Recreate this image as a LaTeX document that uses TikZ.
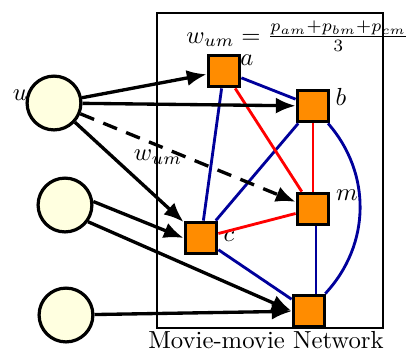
\documentclass[tikz,border=0pt]{standalone}
\usetikzlibrary{arrows.meta}
\definecolor{movieorange}{RGB}{255,140,0}
\definecolor{userfill}{RGB}{255,255,224}
\definecolor{edgeblue}{RGB}{0,0,155}
\begin{document}
\begin{tikzpicture}[x=0.405pt,y=-0.405pt,
  user/.style={circle,draw=black,fill=userfill,line width=1.3pt,minimum size=21.8pt,inner sep=0pt},
  movie/.style={rectangle,draw=black,fill=movieorange,line width=1.3pt,minimum size=12.8pt,inner sep=0pt},
  pref/.style={line width=1.35pt,-{Latex[length=8pt,width=6.5pt]}},
  sim/.style={line width=1.15pt,draw=edgeblue},
  rel/.style={line width=1.15pt,draw=red},
  lbl/.style={inner sep=0pt}]
\useasboundingbox (0,0) rectangle (409,352);
\draw[line width=0.75pt] (157,13) rectangle (383,328);
\node[lbl] (title) at (266,340) {Movie-movie Network};
\node[lbl,anchor=base west] (formula) at (186,43) {$w_{um}=\frac{p_{am}+p_{bm}+p_{cm}}{3}$};
\node[user] (u) at (54,103) {};
\node[user] (u2) at (65,205) {};
\node[user] (u3) at (66,315) {};
\node[lbl] (ul) at (20,95) {$u$};
\node[movie] (a) at (224,71) {};
\node[movie] (b) at (313,106) {};
\node[movie] (m) at (313,209) {};
\node[movie] (c) at (201,238) {};
\node[movie] (d) at (309,311) {};
\node[lbl] (al) at (247,60) {$a$};
\node[lbl] (bl) at (341,97) {$b$};
\node[lbl] (ml) at (347,195) {$m$};
\node[lbl] (cl) at (229,236) {$c$};
\node[lbl] (wl) at (158,157) {$w_{um}$};
\draw[sim] (a) -- (b);
\draw[sim] (a) -- (c);
\draw[sim] (b) -- (c);
\draw[sim] (c) -- (d);
\draw[sim] ([xshift=1.2pt]m.south) -- ([xshift=1.2pt]m.south |- d.north);
\draw[sim] (b) to[bend left=42] (d);
\draw[rel] (a) -- (m);
\draw[rel] (b) -- (m);
\draw[rel] (c) -- (m);
\draw[pref] (u) -- (a);
\draw[pref] (u) -- (b);
\draw[pref] (u) -- (c);
\draw[pref,dashed,dash pattern=on 6pt off 4pt] (u) -- (m);
\draw[pref] (u2.7) -- (c.west);
\draw[pref] (u2.-36) -- (d.west);
\draw[pref] (u3) -- (d);
\end{tikzpicture}
\end{document}
